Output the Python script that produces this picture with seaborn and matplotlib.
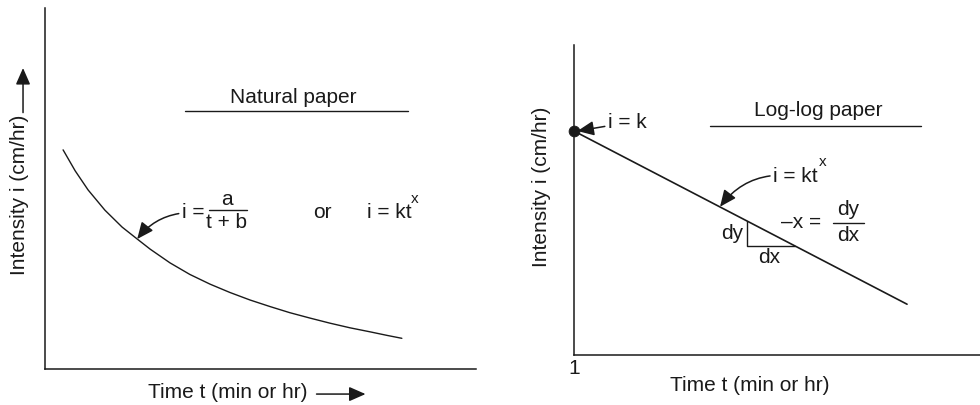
import matplotlib
matplotlib.use("Agg")
import matplotlib.pyplot as plt
import seaborn as sns
import pandas as pd

# natural paper: intensity curve
nat_t = [0.42, 0.70, 1.00, 1.39, 1.79, 2.14, 2.44, 2.90, 3.36, 3.83, 4.29, 4.76,
         5.22, 5.68, 6.15, 6.61, 7.08, 7.54, 7.94, 8.28]
nat_i = [6.07, 5.49, 4.96, 4.40, 3.93, 3.60, 3.32, 2.94, 2.62, 2.35, 2.12, 1.91,
         1.73, 1.56, 1.41, 1.27, 1.14, 1.03, 0.93, 0.85]

# log-log paper: straight line i = k t^x
log_t = [1, 289]
log_i = [147, 3.1]
k_t, k_i = [1], [147]
tri_t = [19, 19, 43]
tri_i = [19.7, 11.4, 11.4]

sns.set_theme(style="white")
plt.rcParams['font.family'] = ['Liberation Sans', 'DejaVu Sans']
ink = '#1a1a1a'
fs = 15

fig = plt.figure(figsize=(9.8, 4.05), dpi=100)
ax1 = fig.add_axes([0.0459, 0.0889, 0.4398, 0.8914])
ax2 = fig.add_axes([0.5857, 0.1235, 0.4143, 0.7654])

for ax in (ax1, ax2):
    for s in ['top', 'right']:
        ax.spines[s].set_visible(False)
    for s in ['left', 'bottom']:
        ax.spines[s].set_color(ink)
        ax.spines[s].set_linewidth(1.1)

arrow_kw = dict(arrowstyle='-|>,head_length=0.5,head_width=0.22', color=ink, lw=1.1,
                mutation_scale=20, shrinkA=0, shrinkB=0)

# ---- left panel
df_nat = pd.DataFrame({'t': nat_t, 'i': nat_i})
sns.lineplot(data=df_nat, x='t', y='i', color=ink, linewidth=1.0, ax=ax1, errorbar=None)
ax1.set_xlim(0, 10)
ax1.set_ylim(0, 10)
ax1.set_xticks([])
ax1.set_yticks([])
ax1.set_xlabel('')
ax1.set_ylabel('')

ax1.text(0.575, 0.737, 'Natural paper', transform=ax1.transAxes, ha='center', va='baseline', fontsize=fs, color=ink)
ax1.plot([0.325, 0.842], [0.715, 0.715], transform=ax1.transAxes, color=ink, lw=1.0)
ax1.annotate('i =', xy=(2.14, 3.60), xytext=(0.318, 0.418), textcoords='axes fraction',
             ha='left', va='baseline', fontsize=fs, color=ink,
             arrowprops=dict(connectionstyle='arc3,rad=0.25', **arrow_kw))
ax1.text(0.422, 0.454, 'a', transform=ax1.transAxes, ha='center', va='baseline', fontsize=fs, color=ink)
ax1.plot([0.381, 0.469], [0.440, 0.440], transform=ax1.transAxes, color=ink, lw=1.0)
ax1.text(0.422, 0.391, 't + b', transform=ax1.transAxes, ha='center', va='baseline', fontsize=fs, color=ink)
ax1.text(0.643, 0.418, 'or', transform=ax1.transAxes, ha='center', va='baseline', fontsize=fs, color=ink)
ax1.text(0.747, 0.418, 'i = kt', transform=ax1.transAxes, ha='left', va='baseline', fontsize=fs, color=ink)
ax1.text(0.858, 0.460, 'x', transform=ax1.transAxes, ha='center', va='baseline', fontsize=11, color=ink)

fig.text(0.0204, 0.518, 'Intensity i (cm/hr)', rotation=90, ha='center', va='center', fontsize=fs, color=ink)
fig.add_artist(matplotlib.patches.FancyArrowPatch((0.0235, 0.722), (0.0235, 0.832), transform=fig.transFigure, **arrow_kw))
fig.text(0.2327, 0.0173, 'Time t (min or hr)', ha='center', va='baseline', fontsize=fs, color=ink)
fig.add_artist(matplotlib.patches.FancyArrowPatch((0.323, 0.027), (0.373, 0.027), transform=fig.transFigure, **arrow_kw))

# ---- right panel
df_log = pd.DataFrame({'t': log_t, 'i': log_i})
sns.lineplot(data=df_log, x='t', y='i', color=ink, linewidth=1.2, ax=ax2, errorbar=None)
ax2.set_xscale('log')
ax2.set_yscale('log')
ax2.set_xlim(1, 1000)
ax2.set_ylim(1, 1000)
ax2.plot(tri_t, tri_i, color=ink, lw=1.0)
sns.scatterplot(x=k_t, y=k_i, color=ink, s=60, ax=ax2, clip_on=False, zorder=5, edgecolor=ink)
ax2.minorticks_off()
ax2.set_xticks([1])
ax2.set_xticklabels(['1'])
ax2.set_yticks([])
ax2.tick_params(axis='x', length=0, pad=3, labelsize=fs, colors=ink)
ax2.set_xlabel('')
ax2.set_ylabel('')

ax2.text(0.601, 0.771, 'Log-log paper', transform=ax2.transAxes, ha='center', va='baseline', fontsize=fs, color=ink)
ax2.plot([0.335, 0.855], [0.739, 0.739], transform=ax2.transAxes, color=ink, lw=1.0)
ax2.annotate('i = k', xy=(1.06, 147), xytext=(0.084, 0.732), textcoords='axes fraction',
             ha='left', va='baseline', fontsize=fs, color=ink, arrowprops=dict(**arrow_kw))
ax2.annotate('i = kt', xy=(12.0, 27.2), xytext=(0.491, 0.558), textcoords='axes fraction',
             ha='left', va='baseline', fontsize=fs, color=ink,
             arrowprops=dict(connectionstyle='arc3,rad=0.3', **arrow_kw))
ax2.text(0.613, 0.610, 'x', transform=ax2.transAxes, ha='center', va='baseline', fontsize=11, color=ink)
ax2.text(0.416, 0.374, 'dy', transform=ax2.transAxes, ha='right', va='baseline', fontsize=fs, color=ink)
ax2.text(0.480, 0.297, 'dx', transform=ax2.transAxes, ha='center', va='baseline', fontsize=fs, color=ink)
ax2.text(0.510, 0.410, '\u2013x =', transform=ax2.transAxes, ha='left', va='baseline', fontsize=fs, color=ink)
ax2.text(0.675, 0.452, 'dy', transform=ax2.transAxes, ha='center', va='baseline', fontsize=fs, color=ink)
ax2.plot([0.638, 0.714], [0.426, 0.426], transform=ax2.transAxes, color=ink, lw=1.0)
ax2.text(0.675, 0.368, 'dx', transform=ax2.transAxes, ha='center', va='baseline', fontsize=fs, color=ink)
ax2.text(0.433, -0.116, 'Time t (min or hr)', transform=ax2.transAxes, ha='center', va='baseline', fontsize=fs, color=ink)
fig.text(0.553, 0.538, 'Intensity i (cm/hr)', rotation=90, ha='center', va='center', fontsize=fs, color=ink)

fig.savefig('out.png', dpi=100)
